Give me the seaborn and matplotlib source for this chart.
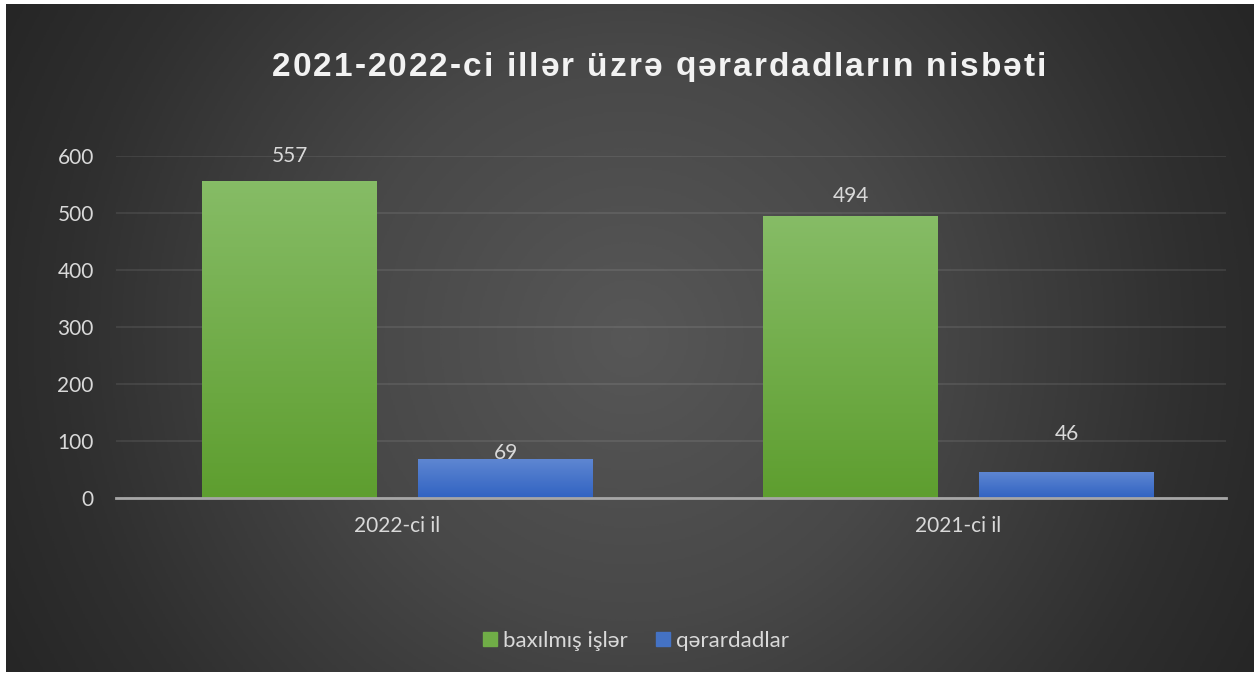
import numpy as np
import pandas as pd
import seaborn as sns
import matplotlib.pyplot as plt
from matplotlib import font_manager
from matplotlib.colors import LinearSegmentedColormap

YEARS = ["2022-ci il", "2021-ci il"]
SERIES = ["baxılmış işlər", "qərardadlar"]
CASES = [557, 494]
DECISIONS = [69, 46]
TITLE = "2021-2022-ci illər üzrə qərardadların nisbəti"

# label offsets above bar tops (points), as placed in the original
LABEL_OFFSETS = [[18, 15], [4, 27]]

COLORS = ["#70ad47", "#4472c4"]
GRADS = [("#86bc66", "#5e9e2f"), ("#5f87d2", "#3163c2")]
TXT = "#d9d9d9"
FONT = "Lato"

names = {f.name for f in font_manager.fontManager.ttflist}
TITLE_FONT = "Liberation Sans Narrow" if "Liberation Sans Narrow" in names else "Liberation Sans"

df = pd.DataFrame({
    "year": YEARS * 2,
    "series": [SERIES[0]] * len(YEARS) + [SERIES[1]] * len(YEARS),
    "value": CASES + DECISIONS,
})

W, H = 1258, 676
fig = plt.figure(figsize=(W / 100, H / 100), dpi=100)
fig.patch.set_facecolor("white")

# radial dark background
bg = fig.add_axes([6 / W, 4 / H, 1248 / W, 668 / H], zorder=0)
yy, xx = np.mgrid[-334:334:400j, -624:624:800j]
r = np.sqrt(xx ** 2 + yy ** 2) / np.sqrt(624 ** 2 + 334 ** 2)
bg_cmap = LinearSegmentedColormap.from_list(
    "bg", [(0, "#575757"), (0.4, "#484848"), (0.8, "#2f2f2f"), (1, "#262626")])
bg.imshow(r, cmap=bg_cmap, vmin=0, vmax=1, aspect="auto")
bg.axis("off")

ax = fig.add_axes([116 / W, 1 - 498 / H, 1110 / W, 342 / H], zorder=1)
ax.patch.set_alpha(0)
sns.barplot(data=df, x="year", y="value", hue="series", palette=COLORS,
            width=0.77, gap=0.19, ax=ax, zorder=3, legend=False)

ax.set_yticks(range(0, 601, 100))
ax.grid(axis="y", color="white", alpha=0.09, linewidth=1.3, zorder=0)
ax.set_axisbelow(True)
for s in ["top", "right", "left"]:
    ax.spines[s].set_visible(False)
ax.spines["bottom"].set_color("#a6a6a6")
ax.spines["bottom"].set_linewidth(2)
ax.spines["bottom"].set_zorder(5)
ax.tick_params(length=0, colors=TXT, labelsize=15)
ax.tick_params(axis="x", pad=13)
ax.tick_params(axis="y", pad=16)
for lab in ax.get_xticklabels() + ax.get_yticklabels():
    lab.set_fontfamily(FONT)
ax.set_xlabel("")
ax.set_ylabel("")

# gradient fills clipped to the bars, plus value labels
for i, cont in enumerate(ax.containers):
    cmap = LinearSegmentedColormap.from_list(f"g{i}", [GRADS[i][1], GRADS[i][0]])
    for j, bar in enumerate(cont):
        x0, w, h = bar.get_x(), bar.get_width(), bar.get_height()
        grad = np.linspace(0, 1, 100).reshape(-1, 1)
        im = ax.imshow(grad, cmap=cmap, origin="lower", aspect="auto",
                       extent=[x0, x0 + w, 0, h], zorder=3.5)
        im.set_clip_path(bar)
        ax.annotate(f"{h:.0f}", (x0 + w / 2, h), xytext=(0, LABEL_OFFSETS[i][j]),
                    textcoords="offset points", ha="center", va="center",
                    color=TXT, fontsize=15, family=FONT, zorder=6,
                    annotation_clip=False)
ax.set_xlim(-0.502, 1.477)
ax.set_ylim(0, 600)

handles = [plt.Rectangle((0, 0), 1, 1, color=c) for c in COLORS]
leg = fig.legend(handles, SERIES, loc="center", bbox_to_anchor=(636 / W, 1 - 641 / H),
                 ncol=2, frameon=False, prop={"family": FONT, "size": 16},
                 handlelength=0.63, handleheight=0.63, columnspacing=1.25,
                 handletextpad=0.3)
for t in leg.get_texts():
    t.set_color(TXT)

# title with letter spacing, placed char by char
renderer = fig.canvas.get_renderer()
tkw = dict(color="#f2f2f2", fontsize=24, fontweight="bold", family=TITLE_FONT,
           va="center", ha="left")
widths = []
for ch in TITLE:
    t = fig.text(0, 0, ch if ch != " " else "i", **tkw)
    widths.append(t.get_window_extent(renderer).width)
    t.remove()
target = 1046 - 272
track = (target - sum(widths)) / (len(TITLE) - 1)
x = 272
for ch, cw in zip(TITLE, widths):
    if ch != " ":
        fig.text(x / W, 1 - 67 / H, ch, **tkw)
    x += cw + track

fig.savefig("out.png", dpi=100, facecolor=fig.get_facecolor())
